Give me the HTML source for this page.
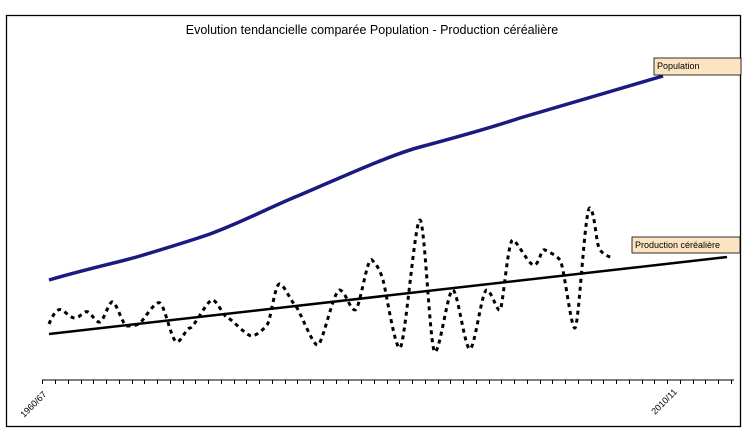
<!DOCTYPE html><html><head><style>body{margin:0;background:#fff}svg{display:block}</style></head><body>
<svg width="752" height="447" xmlns="http://www.w3.org/2000/svg" font-family="Liberation Sans, sans-serif">
<rect x="0" y="0" width="752" height="447" fill="#fff"/>
<rect x="6.5" y="15.5" width="734" height="411" fill="none" stroke="#000" stroke-width="1.3"/>
<text x="372" y="34" font-size="12.5" text-anchor="middle">Evolution tendancielle comparée Population - Production céréalière</text>
<line x1="42" y1="380" x2="734" y2="380" stroke="#000" stroke-width="1"/>
<path stroke="#000" stroke-width="1" d="M42.5,380v4M55.5,380v4M68.5,380v4M81.5,380v4M93.5,380v4M106.5,380v4M119.5,380v4M132.5,380v4M144.5,380v4M157.5,380v4M170.5,380v4M183.5,380v4M195.5,380v4M208.5,380v4M221.5,380v4M234.5,380v4M246.5,380v4M259.5,380v4M272.5,380v4M285.5,380v4M297.5,380v4M310.5,380v4M323.5,380v4M336.5,380v4M348.5,380v4M361.5,380v4M374.5,380v4M387.5,380v4M399.5,380v4M412.5,380v4M425.5,380v4M438.5,380v4M450.5,380v4M463.5,380v4M476.5,380v4M489.5,380v4M501.5,380v4M514.5,380v4M527.5,380v4M540.5,380v4M552.5,380v4M565.5,380v4M578.5,380v4M591.5,380v4M603.5,380v4M616.5,380v4M629.5,380v4M642.5,380v4M654.5,380v4M667.5,380v4M680.5,380v4M693.5,380v4M705.5,380v4M718.5,380v4M731.5,380v4"/>
<path d="M49,280 C90,268 120,262 140,256 C170,247 190,241 210,234 C245,221 270,207 300,195 C340,178 390,155 420,147 C450,139 490,128 520,118 C570,103 620,89 663,76" fill="none" stroke="#1a1a80" stroke-width="3.5"/>
<line x1="49" y1="334" x2="727" y2="257" stroke="#000" stroke-width="2.5"/>
<path d="M49,324 C54,312 58,308 62,310 S70,318 75,318 S84,310 88,312 S96,323 100,322 S109,300 113,302 S123,326 127,326 S136,326 140,323 S155,300 160,303 S172,343 177,342 S186,328 190,328 S208,298 213,300 S223,316 228,318 S248,338 253,336 S263,330 267,325 S275,282 280,284 S290,300 295,305 S313,347 318,345 S334,288 340,290 S350,310 355,310 S367,255 372,260 S380,270 383,280 S395,350 400,348 S415,218 420,220 S430,352 435,352 S448,288 453,290 S465,350 470,349 S482,288 487,290 S497,312 500,310 S508,238 513,240 S530,268 535,265 S541,248 545,250 S556,255 560,260 S571,330 575,328 S585,204 590,208 S596,245 600,250 S608,256 612,258" fill="none" stroke="#000" stroke-width="3" stroke-dasharray="4,4"/>
<rect x="654" y="58" width="87" height="17" fill="#fde4c0" stroke="#000" stroke-width="0.8"/>
<text x="657" y="69" font-size="9">Population</text>
<rect x="632" y="237" width="108" height="16" fill="#fde4c0" stroke="#000" stroke-width="0.8"/>
<text x="635" y="248" font-size="9">Production céréalière</text>
<text transform="translate(24,418) rotate(-45)" font-size="9">1960/67</text>
<text transform="translate(655,415) rotate(-45)" font-size="9">2010/11</text>
</svg></body></html>
